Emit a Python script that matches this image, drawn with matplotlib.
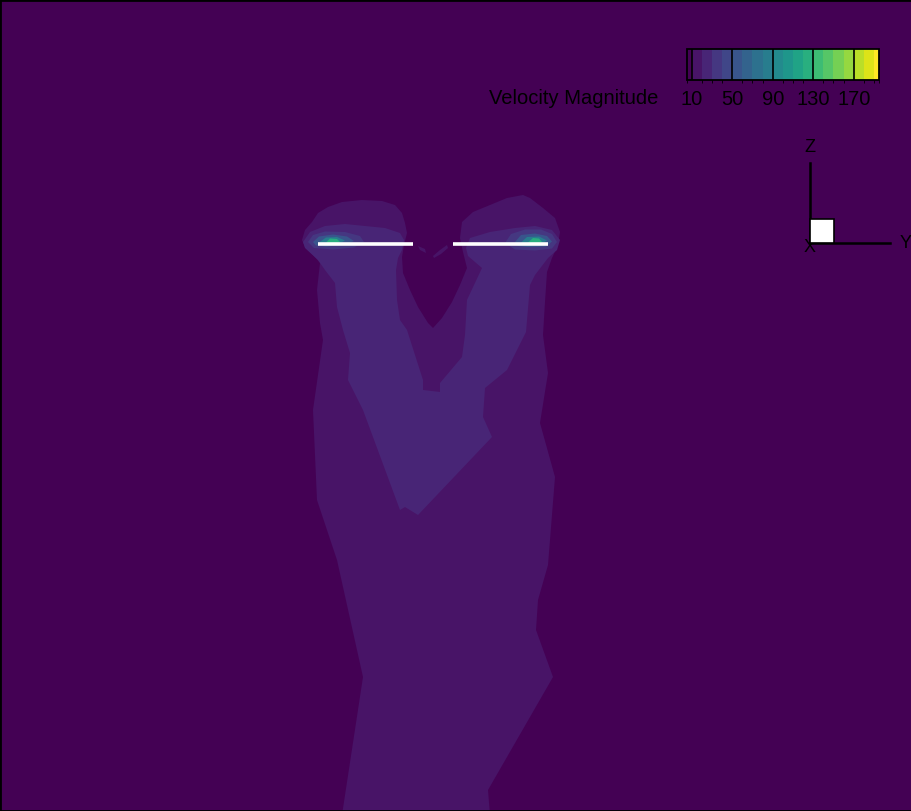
import numpy as np
import matplotlib
matplotlib.use('Agg')
import matplotlib.pyplot as plt
from matplotlib.colors import ListedColormap, BoundaryNorm
from matplotlib.cm import ScalarMappable
from matplotlib.patches import Polygon, Rectangle

plt.rcParams['font.family'] = ['Liberation Sans', 'DejaVu Sans']

# contour levels of velocity magnitude (Tecplot style, half band at each end)
levels = list(range(10, 200, 10))
bounds = [5] + levels + [195]
tick_values = [10, 50, 90, 130, 170]
background_value = 3

# wake regions: (value, Y, Z) outlines in the Y-Z slice
wake_outer_value = 15
wake_outer_y = [-12.8, -13.1, -12.8, -12.1, -11.5, -10.5, -9.1, -7.1, -5.1, -3.8, -3.1, -2.8, -2.6,
                -2.9, -3.1, -3.0, -2.3, -1.5, -0.5, 0.0, 0.9, 1.9, 2.7, 3.4, 3.0, 2.7, 2.9, 4.0,
                5.7, 7.4, 9.0, 9.7, 11.0, 12.2, 12.7, 12.5, 11.9, 11.4, 11.2, 11.0, 11.5, 10.7,
                12.2, 11.5, 10.5, 10.3, 12.0, 5.5, 5.7, -9.1, -7.0, -9.6, -11.6, -12.0, -11.0,
                -11.3, -11.6, -11.3, -11.8]
wake_outer_z = [-0.3, 0.4, 1.4, 2.2, 3.1, 3.7, 4.2, 4.4, 4.3, 3.9, 3.1, 2.1, 1.1,
                -0.1, -1.3, -2.9, -4.6, -6.3, -7.9, -8.4, -7.4, -5.8, -4.1, -2.4, -0.8, 0.6, 2.2, 3.2,
                3.9, 4.6, 4.9, 4.6, 3.6, 2.6, 1.2, -0.1, -1.4, -2.8, -5.8, -9.1, -12.9, -17.9,
                -23.3, -32.1, -35.6, -38.6, -43.3, -54.6, -57.1, -57.1, -43.3, -31.6, -25.6, -16.6, -9.6,
                -7.9, -4.6, -1.9, -1.3]

wake_inner_value = 25
wake_inner_y = [-13.0, -12.3, -10.8, -8.8, -6.8, -4.8, -3.3, -2.9, -3.1, -3.5, -3.7, -3.6, -3.3,
                -2.6, -1.0, -1.0, 0.7, 0.7, 2.9, 3.2, 3.4, 4.9, 3.5, 3.3, 3.7, 5.7, 8.2, 10.2,
                11.9, 12.7, 12.4, 11.5, 10.2, 9.7, 9.3, 7.4, 5.2, 5.0, 5.9, -1.5, -2.8, -3.3,
                -7.0, -8.5, -8.3, -9.0, -9.6, -9.8, -10.8, -11.5, -12.8]
wake_inner_z = [0.2, 1.2, 1.8, 2.0, 1.8, 1.6, 1.1, 0.4, -0.6, -1.4, -2.6, -5.6, -7.6,
                -8.6, -13.6, -14.6, -14.8, -13.9, -11.3, -9.1, -5.6, -2.4, -1.2, -0.4, 0.6, 1.2, 1.6, 1.8,
                1.4, 0.4, -0.6, -1.4, -3.1, -4.1, -8.8, -12.6, -14.4, -17.3, -19.3, -27.1, -26.3, -26.6,
                -16.6, -13.6, -10.9, -8.6, -6.3, -3.9, -2.6, -1.6, -0.4]

hub_left_y = [-1.5, -0.8, -0.7, -1.3]
hub_left_z = [-0.2, -0.5, -0.9, -0.6]
hub_right_y = [0.0, 0.7, 1.4, 1.5, 0.8, 0.1]
hub_right_z = [-1.2, -0.6, -0.1, -0.4, -1.0, -1.4]

# tip vortex cores, nested from outer to inner
vortex_values = [35, 55, 85, 125]
left_vortex_y = [
    [-12.5, -12.0, -10.8, -8.8, -7.3, -6.9, -7.9, -10.0, -11.9],
    [-12.0, -11.4, -10.0, -8.6, -7.9, -8.8, -10.7, -11.7],
    [-11.4, -10.7, -9.6, -8.8, -9.5, -10.9],
    [-10.7, -10.3, -9.6, -9.3, -10.1],
]
left_vortex_z = [
    [0.2, 0.9, 1.25, 1.2, 0.8, 0.2, -0.35, -0.55, -0.4],
    [0.2, 0.75, 0.95, 0.75, 0.3, -0.1, -0.25, -0.15],
    [0.15, 0.65, 0.7, 0.35, 0.0, -0.05],
    [0.15, 0.55, 0.5, 0.2, 0.0],
]
right_vortex_y = [
    [7.2, 7.8, 9.2, 10.8, 11.9, 12.4, 11.9, 10.2, 8.2],
    [8.2, 8.8, 10.2, 11.4, 11.9, 11.3, 9.5, 8.5],
    [8.8, 9.4, 10.6, 11.4, 10.7, 9.3],
    [9.5, 10.0, 10.6, 10.9, 10.2],
]
right_vortex_z = [
    [0.1, 1.0, 1.45, 1.45, 1.0, 0.2, -0.45, -0.65, -0.55],
    [0.2, 0.9, 1.05, 0.8, 0.25, -0.25, -0.3, -0.2],
    [0.15, 0.7, 0.75, 0.35, -0.05, -0.05],
    [0.15, 0.6, 0.55, 0.2, 0.0],
]

# rotor blades (Y start, Y end) at Z = 0
blades = [(-11.5, -2.0), (2.0, 11.5)]
blade_z = -0.05


def main():
   cmap = ListedColormap(plt.get_cmap('viridis')(np.linspace(0, 1, len(bounds) - 1)))
   norm = BoundaryNorm(bounds, cmap.N, clip=True)

   fig = plt.figure(figsize=(9.12, 8.11), dpi=100)
   ax = fig.add_axes([0, 0, 1, 1])
   ax.set_facecolor(cmap(norm(background_value)))
   ax.set_xlim(-43.3, 47.9)
   ax.set_ylim(-56.7, 24.4)
   ax.set_xticks([])
   ax.set_yticks([])
   for s in ax.spines.values():
      s.set_linewidth(2)
      s.set_color('black')

   def region(y, z, value):
      ax.add_patch(Polygon(np.column_stack([y, z]), closed=True,
                           facecolor=cmap(norm(value)), edgecolor='none'))

   region(wake_outer_y, wake_outer_z, wake_outer_value)
   region(hub_left_y, hub_left_z, wake_outer_value)
   region(hub_right_y, hub_right_z, wake_outer_value)
   region(wake_inner_y, wake_inner_z, wake_inner_value)
   for i, v in enumerate(vortex_values):
      region(left_vortex_y[i], left_vortex_z[i], v)
      region(right_vortex_y[i], right_vortex_z[i], v)

   for y0, y1 in blades:
      ax.plot([y0, y1], [blade_z, blade_z], color='white', lw=2.6, solid_capstyle='butt')

   # legend
   cax = fig.add_axes([686.7 / 912, 1 - 80.3 / 811, 192.3 / 912, 31 / 811])
   sm = ScalarMappable(norm=norm, cmap=cmap)
   cb = fig.colorbar(sm, cax=cax, orientation='horizontal', spacing='proportional',
                     ticks=tick_values)
   cb.outline.set_linewidth(1.3)
   cb.outline.set_edgecolor('black')
   for v in tick_values:
      cax.axvline(v, color='black', lw=1.2)
   cax.tick_params(length=0, pad=7, labelsize=14.5)
   fig.text(658 / 912, 1 - 99 / 811, 'Velocity Magnitude', ha='right', va='center', fontsize=14.5)

   # axis triad
   tri = fig.add_axes([810 / 912, 1 - 243 / 811, 80 / 912, 80 / 811])
   tri.set_xlim(0, 80)
   tri.set_ylim(0, 80)
   tri.axis('off')
   tri.text(0, -4, 'X', ha='center', va='center', fontsize=13, zorder=1)
   tri.plot([0, 0], [0, 80], color='black', lw=1.8, zorder=2, clip_on=False)
   tri.plot([0, 80], [0, 0], color='black', lw=1.8, zorder=2, clip_on=False)
   tri.add_patch(Rectangle((0, 0), 24, 24, facecolor='white', edgecolor='black', lw=1.2,
                           zorder=3, clip_on=False))
   tri.text(0, 96, 'Z', ha='center', va='center', fontsize=13)
   tri.text(96, 0, 'Y', ha='center', va='center', fontsize=13)

   fig.savefig('out.png', dpi=100)


if __name__ == "__main__":
   main()
